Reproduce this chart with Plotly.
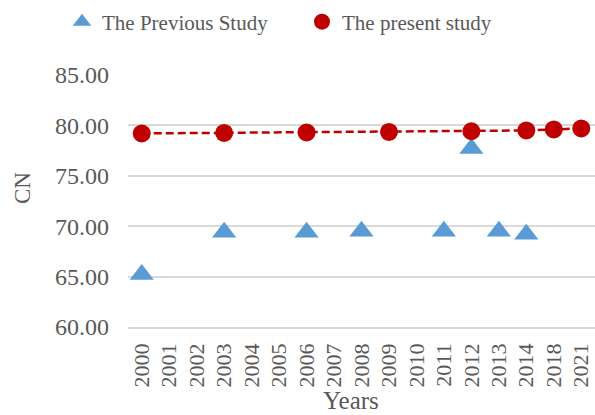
import plotly.graph_objects as go

years = ["2000","2001","2002","2003","2004","2005","2006","2007","2008","2009",
         "2010","2011","2012","2013","2014","2018","2021"]

prev_years = ["2000","2003","2006","2008","2011","2012","2013","2014"]
prev_vals = [65.2, 69.4, 69.4, 69.5, 69.5, 77.7, 69.5, 69.2]

pres_years = ["2000","2003","2006","2009","2012","2014","2018","2021"]
pres_vals = [79.2, 79.25, 79.3, 79.35, 79.42, 79.5, 79.6, 79.7]

y_ticks = [60, 65, 70, 75, 80, 85]
y_ticktext = [f"{v:.2f}" for v in y_ticks]

font_family = "Liberation Serif"
grey = "#595959"
W, H = 595, 415

fig = go.Figure()
fig.add_trace(go.Scatter(
    x=pres_years, y=pres_vals, mode="lines", showlegend=False, hoverinfo="skip",
    line=dict(color="#C00000", width=2.5, dash="8px,4px"),
))
fig.add_trace(go.Scatter(
    x=prev_years, y=prev_vals, mode="markers", name="The Previous Study",
    marker=dict(symbol="triangle-up", size=21, color="#5B9BD5"),
    legend="legend",
))
fig.add_trace(go.Scatter(
    x=pres_years, y=pres_vals, mode="markers", name="The present study",
    marker=dict(symbol="circle", size=18, color="#C00000"),
    legend="legend2",
))

leg_common = dict(
    orientation="h", xref="container", yref="container",
    xanchor="left", yanchor="middle", y=1 - 22 / H,
    font=dict(family=font_family, size=21, color=grey),
    bgcolor="rgba(0,0,0,0)",
)

fig.update_layout(
    width=W, height=H,
    margin=dict(l=128, r=0, t=75, b=88, autoexpand=False),
    paper_bgcolor="white", plot_bgcolor="white",
    font=dict(family=font_family, color=grey, size=18),
    showlegend=True,
    legend=dict(x=62 / W, **leg_common),
    legend2=dict(x=302 / W, **leg_common),
    xaxis=dict(
        type="category", categoryorder="array", categoryarray=years,
        range=[-0.5, len(years) - 0.5],
        tickangle=-90, tickfont=dict(size=22, color=grey, family=font_family),
        showgrid=False, showline=True, linecolor="#D9D9D9", linewidth=1.5,
        ticks="", zeroline=False, ticklabelstandoff=6,
    ),
    yaxis=dict(
        range=[60, 85], tickvals=y_ticks, ticktext=y_ticktext,
        tickfont=dict(size=24, color=grey, family=font_family),
        showgrid=True, gridcolor="#D9D9D9", gridwidth=1.5,
        zeroline=False, showline=False, ticks="", ticklabelstandoff=18,
    ),
    annotations=[
        dict(text="Years", xref="paper", yref="paper",
             x=(351 - 128) / (W - 128), y=-(400 - 327) / (327 - 75),
             xanchor="center", yanchor="middle", showarrow=False,
             font=dict(size=25, color=grey, family=font_family)),
        dict(text="CN", xref="paper", yref="paper",
             x=-(128 - 22) / (W - 128), y=(327 - 188) / (327 - 75),
             xanchor="center", yanchor="middle", showarrow=False, textangle=-90,
             font=dict(size=23, color=grey, family=font_family)),
    ],
)

fig.write_html("out.html", config={"displayModeBar": False},
               post_script="document.body.style.margin='0';")
